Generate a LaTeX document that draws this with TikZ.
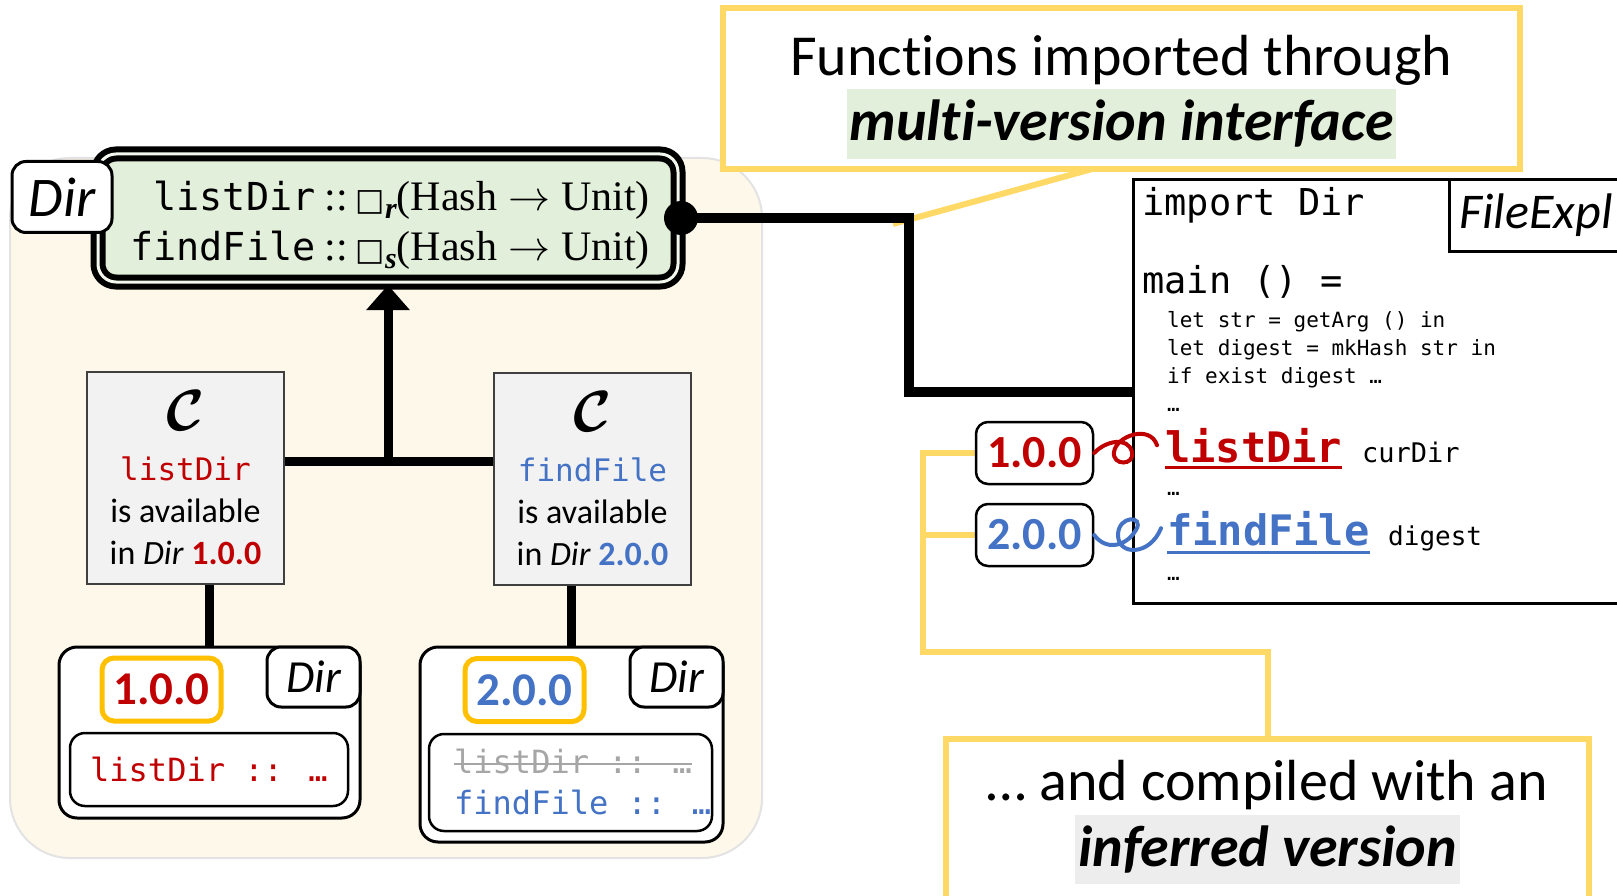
\RequirePackage{fix-cm}
\documentclass[tikz,border=0pt]{standalone}
\usepackage{xcolor}
\usepackage{tikz}
\usetikzlibrary{arrows.meta, calc}
\usepackage{amsmath, bm}
\usepackage{fontspec}
\setmainfont{Carlito}[Ligatures=NoCommon]
\newfontfamily\codefont{DejaVu Sans Mono}
\newfontfamily\sigfont{Liberation Serif}
\newfontfamily\dejafont{DejaVu Sans}

\definecolor{verred}{HTML}{C00000}
\definecolor{verblue}{HTML}{4472C4}
\definecolor{tagyellow}{HTML}{FFC000}
\definecolor{noteyellow}{HTML}{FFD966}
\definecolor{cream}{HTML}{FEF8EA}
\definecolor{creamline}{HTML}{E3E3E3}
\definecolor{ifacegreen}{HTML}{E2EFDA}
\definecolor{boxgray}{HTML}{F2F2F2}
\definecolor{markgray}{HTML}{EDEDED}
\definecolor{strikegray}{HTML}{A6A6A6}

% firma de una funcion de la interfaz
\newcommand{\sigline}[2]{{\codefont\fontsize{38.5}{50}\selectfont #1}\hspace{9pt}{\sigfont ::}\hspace{8pt}{\dejafont\fontsize{31}{31}\selectfont □}\raisebox{-8pt}{\sigfont\bfseries\itshape\fontsize{30}{30}\selectfont #2}{\sigfont(Hash\hspace{11pt}$\rightarrow$\hspace{11pt}Unit)}}

\tikzset{
  wire/.style={line width=9pt},
  hint/.style={draw=noteyellow, line width=6pt},
  note/.style={draw=noteyellow, line width=6pt, fill=white},
  iface/.style={draw, double=ifacegreen!45, double distance=3pt, line width=6pt,
    fill=ifacegreen, rounded corners=18pt},
  tag/.style={draw, line width=3pt, rounded corners=14pt, fill=white,
    font=\itshape\fontsize{46}{46}\selectfont},
  verbox/.style={draw=tagyellow, line width=5pt, rounded corners=12pt, fill=white,
    minimum width=119pt, minimum height=63pt, font=\bfseries\fontsize{47}{47}\selectfont},
  verpin/.style={draw, line width=2.5pt, rounded corners=12pt, fill=white,
    minimum width=117pt, minimum height=62pt, font=\bfseries\fontsize{46}{46}\selectfont},
  avail/.style={draw=black!75, line width=2pt, fill=boxgray, minimum width=197pt,
    minimum height=212pt, align=center, inner sep=0pt, font=\fontsize{34}{42}\selectfont},
  modbox/.style={draw, line width=3pt, rounded corners=18pt, fill=white},
  codebox/.style={draw, line width=2.5pt, rounded corners=15pt, fill=white,
    font=\codefont\fontsize{32}{41}\selectfont},
  codeline/.style={anchor=base west, inner sep=0pt},
  curl/.style={line width=4pt, line cap=round}
}

\begin{document}
\begin{tikzpicture}[x=1pt, y=-1pt]

\useasboundingbox (0,0) rectangle (1617,896);
\clip (0,0) rectangle (1617,896);
\fill[white] (0,0) rectangle (1617,896);

% Fondo del modulo Dir
\draw[draw=creamline, line width=2pt, fill=cream, rounded corners=60pt] (10,158) rectangle (762,858);

% Globo superior y su cola
\coordinate (tip) at (893,224);
\draw[hint] (tip) -- (1092,169);
\node[note, minimum width=797pt, minimum height=161pt] (note) at (1121.5,88.5) {};
\node[font=\fontsize{58}{58}\selectfont] (noteA) at (1121,60) {Functions imported through};
\node[fill=ifacegreen, minimum height=70pt, inner xsep=2pt,
  font=\bfseries\itshape\fontsize{58}{58}\selectfont] (noteB) at (1121.5,124) {multi-version interface};

% Interfaz multi-version
\node[iface, minimum width=580pt, minimum height=128pt] (iface) at (388,218) {};
\node[align=right, font=\fontsize{42}{50}\selectfont] (ifacetext) at (390,225) {\sigline{listDir}{r}\\\sigline{findFile}{s}};
\node[tag, minimum width=100pt, minimum height=71pt, font=\itshape\fontsize{56}{56}\selectfont] (ifacetag) at (62,197) {Dir};

% Restricciones C
\node[avail] (availL) at (185.5,478) {{\fontsize{58}{58}\selectfont$\boldsymbol{\mathcal{C}}$}\\[8pt]{\codefont\fontsize{31}{42}\selectfont\color{verred}listDir}\\is available\\in \textit{Dir} \textbf{\color{verred}1.0.0}};
\node[avail] (availR) at (592.5,479) {{\fontsize{58}{58}\selectfont$\boldsymbol{\mathcal{C}}$}\\[8pt]{\codefont\fontsize{31}{42}\selectfont\color{verblue}findFile}\\is available\\in \textit{Dir} \textbf{\color{verblue}2.0.0}};

\coordinate (join) at (388,461);
\draw[wire] (availL.east |- join) -- (availR.west |- join);
\draw[wire, -{Triangle[length=25pt, width=42pt]}] (join) -- (iface.south);

% Versiones del modulo
\node[modbox, minimum width=301pt, minimum height=171pt] (modL) at (209.5,732.5) {};
\node[modbox, minimum width=303pt, minimum height=195pt] (modR) at (571.5,744.5) {};
\draw[wire] (modL.north) -- (modL.north |- availL.south);
\draw[wire] (modR.north) -- (modR.north |- availR.south);

\node[verbox, text=verred] (tagL) at (161.5,689.5) {1.0.0};
\node[tag, anchor=north east, minimum width=93pt, minimum height=60pt] (dirL) at (modL.north east) {Dir};
\node[codebox, minimum width=278pt, minimum height=73pt, text=verred] (innerL) at (209,769.5) {listDir :: …};

\node[verbox, text=verblue] (tagR) at (524.5,690) {2.0.0};
\node[tag, anchor=north east, minimum width=93pt, minimum height=60pt] (dirR) at (modR.north east) {Dir};
\node[codebox, minimum width=283pt, minimum height=97pt] (innerR) at (570.5,782.5) {};
\node[codeline, font=\codefont\fontsize{32}{32}\selectfont, text=strikegray] (oldln) at (454,773) {listDir :: …};
\node[codeline, font=\codefont\fontsize{32}{32}\selectfont, text=verblue] (newln) at (454,814) {findFile :: …};
\draw[strikegray, line width=2.5pt] ([yshift=9pt]oldln.base west) -- ([yshift=9pt]oldln.base east);

% Programa cliente
\node[draw, line width=3pt, fill=white, minimum width=560pt, minimum height=424pt, anchor=north west] (code) at (1132,178) {};
\node[draw, line width=3pt, fill=white, anchor=north west, text width=180pt, inner xsep=10pt,
  minimum height=72pt, align=left, font=\itshape\fontsize{50}{50}\selectfont] (fname) at (1448,178) {FileExpl};

\node[codeline, font=\codefont\fontsize{37}{37}\selectfont] (imp) at (1142,215) {import Dir};
\node[codeline, font=\codefont\fontsize{37}{37}\selectfont] (mainln) at (1142,293) {main () =};
\node[codeline, font=\codefont\fontsize{21}{21}\selectfont] (letstr) at (1167,327) {let str = getArg () in};
\node[codeline, font=\codefont\fontsize{21}{21}\selectfont] (letdig) at (1167,355) {let digest = mkHash str in};
\node[codeline, font=\codefont\fontsize{21}{21}\selectfont] (ifex) at (1167,383) {if exist digest …};
\node[codeline, font=\codefont\fontsize{21}{21}\selectfont] (dotsA) at (1167,411) {…};
\node[codeline, font=\codefont\bfseries\fontsize{42}{42}\selectfont, text=verred] (uselist) at (1165,462) {listDir};
\node[codeline, font=\codefont\fontsize{27}{27}\selectfont] (argcur) at (1362,462) {curDir};
\node[codeline, font=\codefont\fontsize{21}{21}\selectfont] (dotsB) at (1167,495) {…};
\node[codeline, font=\codefont\bfseries\fontsize{42}{42}\selectfont, text=verblue] (usefind) at (1167,545) {findFile};
\node[codeline, font=\codefont\fontsize{26}{26}\selectfont] (argdig) at (1388,545) {digest};
\node[codeline, font=\codefont\fontsize{21}{21}\selectfont] (dotsC) at (1167,580) {…};
\draw[verred, line width=3pt] ([yshift=-5pt]uselist.base west) -- ([yshift=-5pt]uselist.base east);
\draw[verblue, line width=3pt] ([yshift=-7pt]usefind.base west) -- ([yshift=-7pt]usefind.base east);

% Conexion interfaz - programa
\draw[wire, line width=10pt] (iface.east) -- ++(228,0) |- (code.west);
\fill (iface.east) circle (17pt);

% Globo inferior y corchete de versiones
\coordinate (elbow) at (923,652);
\draw[hint] (1034,453) -| (elbow) -| (1267.5,740);
\draw[hint] (1034,535) -- (1034,535 -| elbow);
\node[note, anchor=north, minimum width=643pt, minimum height=180pt] (infer) at (1267.5,736) {};
\node[font=\fontsize{58}{58}\selectfont] (inferA) at (1267,785) {… and compiled with an};
\node[fill=markgray, minimum height=69pt, inner xsep=3pt,
  font=\bfseries\itshape\fontsize{58}{58}\selectfont] (inferB) at (1267.5,849.5) {inferred version};

\node[verpin, text=verred] (vone) at (1034.5,453) {1.0.0};
\node[verpin, text=verblue] (vtwo) at (1034.5,535) {2.0.0};

% Garabatos hacia los usos
\draw[curl, verred] (vone.east) .. controls (1105,441) and (1128,436) .. (1132,452)
  .. controls (1135,466) and (1112,466) .. (1114,452)
  .. controls (1116,436) and (1150,424) .. ([xshift=-8pt]uselist.west);
\draw[curl, verblue] (vtwo.east) .. controls (1105,550) and (1125,548) .. (1136,530)
  .. controls (1145,515) and (1118,515) .. (1118,535)
  .. controls (1118,556) and (1150,556) .. ([xshift=-6pt]usefind.west);

\end{tikzpicture}
\end{document}
